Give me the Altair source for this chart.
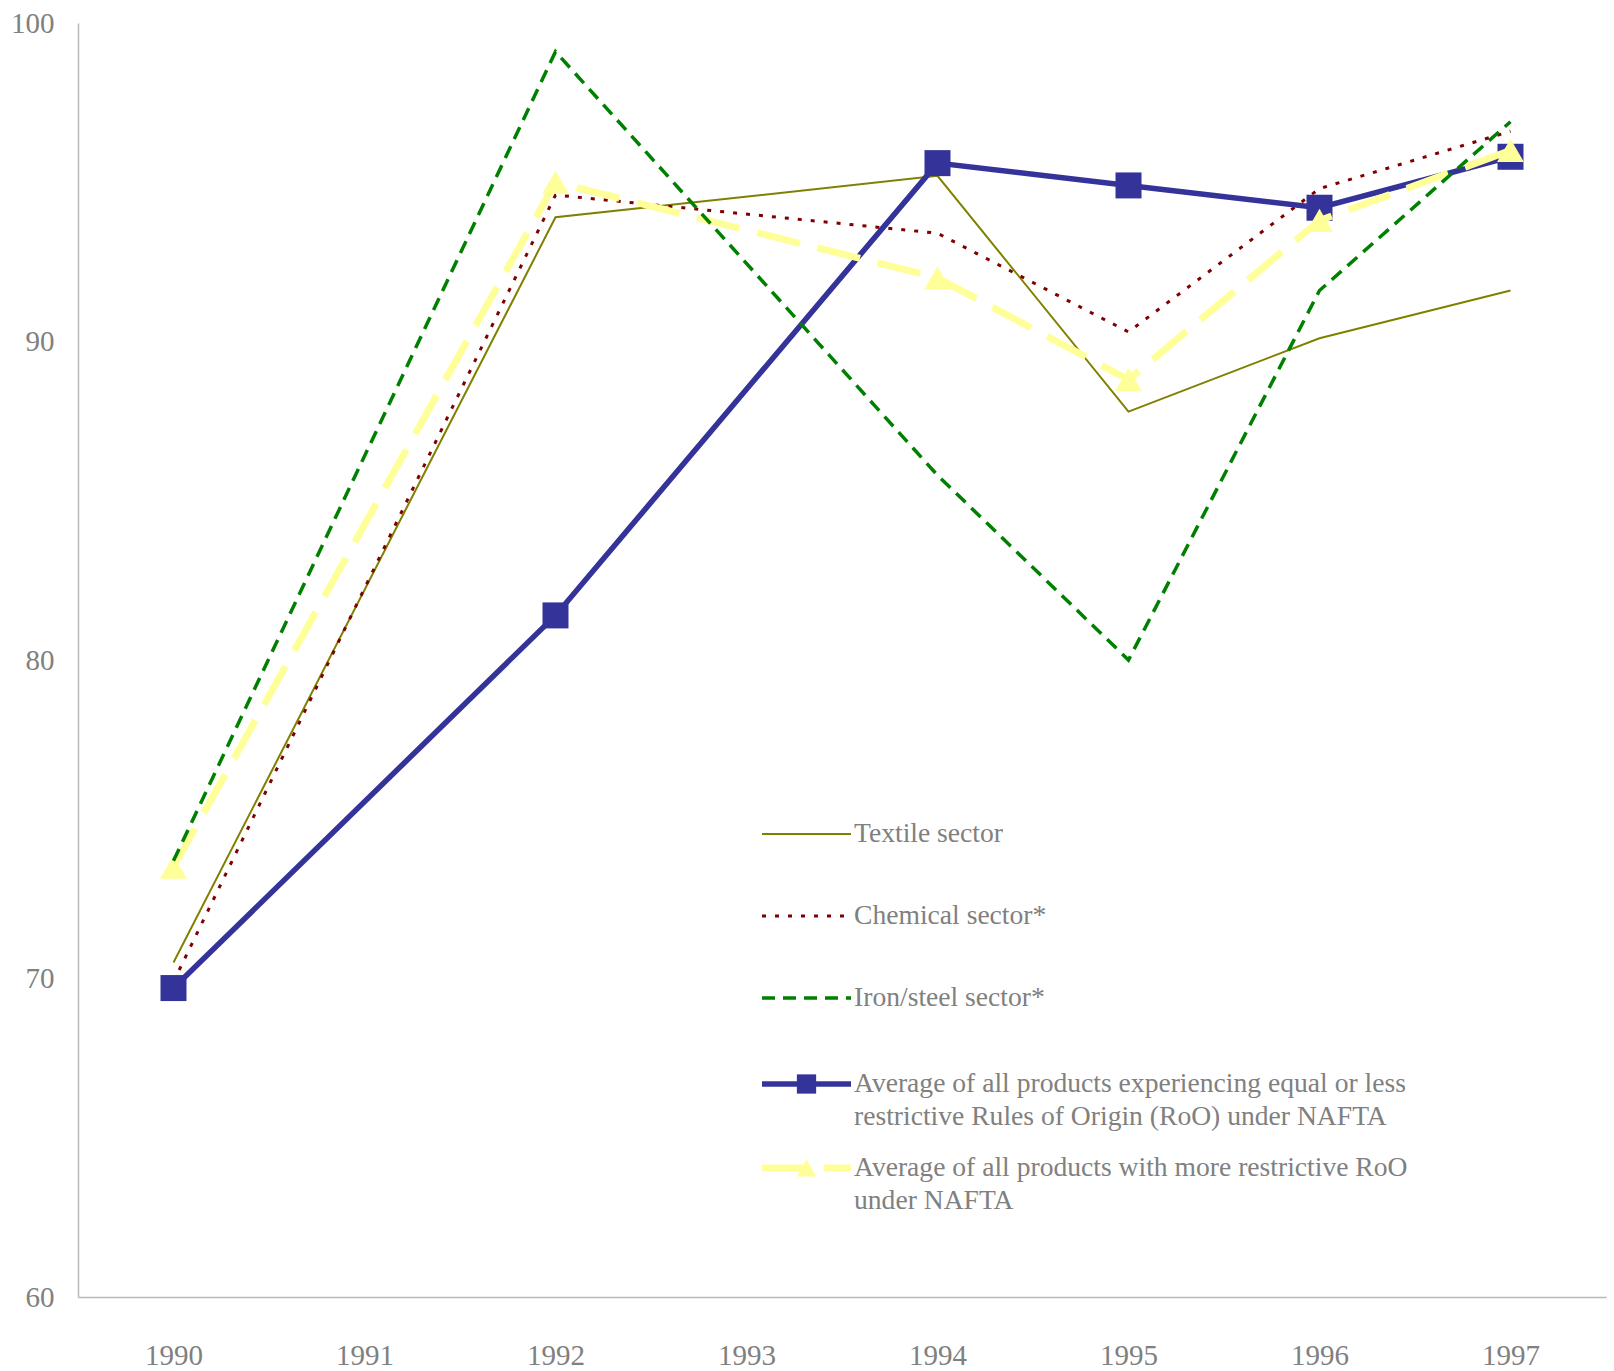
import altair as alt
import pandas as pd

# Year categories on the x axis (1991 and 1993 have no observations)
all_years = ["1990", "1991", "1992", "1993", "1994", "1995", "1996", "1997"]
obs_years = ["1990", "1992", "1994", "1995", "1996", "1997"]

# Index values for each series
textile = [70.5, 93.9, 95.2, 87.8, 90.1, 91.6]
chemical = [69.9, 94.6, 93.4, 90.3, 94.8, 96.6]
iron_steel = [73.7, 99.1, 85.8, 80.0, 91.6, 96.9]
avg_equal_less = [69.7, 81.4, 95.6, 94.9, 94.2, 95.8]
avg_more = [73.5, 95.0, 92.0, 88.8, 93.8, 96.0]

series_names = [
    "Textile sector",
    "Chemical sector*",
    "Iron/steel sector*",
    "Average of all products experiencing equal or less restrictive Rules of Origin (RoO) under NAFTA",
    "Average of all products with more restrictive RoO under NAFTA",
]
series_values = [textile, chemical, iron_steel, avg_equal_less, avg_more]

legend_lines = [
    ["Textile sector"],
    ["Chemical sector*"],
    ["Iron/steel sector*"],
    ["Average of all products experiencing equal or less",
     "restrictive Rules of Origin (RoO) under NAFTA"],
    ["Average of all products with more restrictive RoO",
     "under NAFTA"],
]

rows = []
for name, vals in zip(series_names, series_values):
    for yr, v in zip(obs_years, vals):
        rows.append({"series": name, "year": yr, "value": v})
df = pd.DataFrame(rows)

FONT = "Liberation Serif"
GREY = "#808080"

# Line styles per series: color, width, dash, marker
styles = [
    dict(color="#808000", width=2, dash=None, shape=None),
    dict(color="#800000", width=3, dash=[4, 9], shape=None),
    dict(color="#008000", width=3.5, dash=[13, 8], shape=None),
    dict(color="#333399", width=5.5, dash=None, shape="square", size=676),
    dict(color="#FFFF99", width=7, dash=[44, 18], shape="triangle-up", size=720),
]
draw_order = [0, 1, 3, 4, 2]

x_enc = alt.X(
    "year:O",
    scale=alt.Scale(domain=all_years, type="point", padding=0.5),
    axis=alt.Axis(
        title=None, labelAngle=0, ticks=False, domainColor="#b8b8b8", domainWidth=1.5,
        labelFont=FONT, labelFontSize=29, labelColor=GREY, labelPadding=44,
        grid=False,
    ),
)
y_enc = alt.Y(
    "value:Q",
    scale=alt.Scale(domain=[60, 100], nice=False, zero=False),
    axis=alt.Axis(
        title=None, values=[60, 70, 80, 90, 100], ticks=False, grid=False,
        domainColor="#b8b8b8", domainWidth=1.5,
        labelFont=FONT, labelFontSize=29, labelColor=GREY, labelPadding=24,
    ),
)

base = alt.Chart(df)
layers = []
for i in draw_order:
    st = styles[i]
    mk = dict(color=st["color"], strokeWidth=st["width"], strokeCap="butt")
    if st["dash"]:
        mk["strokeDash"] = st["dash"]
    line = base.transform_filter(alt.datum.series == series_names[i]).mark_line(**mk).encode(
        x=x_enc, y=y_enc
    )
    layers.append(line)
    if st["shape"]:
        pts = base.transform_filter(alt.datum.series == series_names[i]).mark_point(
            shape=st["shape"], filled=True, size=st["size"], color=st["color"], opacity=1
        ).encode(x=x_enc, y=y_enc)
        layers.append(pts)

# Legend drawn inside the plot area
one = pd.DataFrame({"k": [0]})
leg_rows_y = [811, 893, 975, 1061, 1145]
sym_x0, sym_x1, text_x = 684, 773, 776
line_gap = 33
for i, ry in enumerate(leg_rows_y):
    st = styles[i]
    mk = dict(color=st["color"], strokeWidth=st["width"], strokeCap="butt")
    if st["dash"]:
        mk["strokeDash"] = st["dash"]
    layers.append(
        alt.Chart(one).mark_rule(**mk).encode(
            x=alt.value(sym_x0), x2=alt.value(sym_x1), y=alt.value(ry)
        )
    )
    if st["shape"]:
        layers.append(
            alt.Chart(one).mark_point(
                shape=st["shape"], filled=True, size=st["size"] * 0.55,
                color=st["color"], opacity=1,
            ).encode(x=alt.value((sym_x0 + sym_x1) / 2), y=alt.value(ry))
        )
    for j, txt in enumerate(legend_lines[i]):
        layers.append(
            alt.Chart(one).mark_text(
                align="left", baseline="middle", font=FONT, fontSize=27.6, color=GREY
            ).encode(
                x=alt.value(text_x), y=alt.value(ry + j * line_gap), text=alt.value(txt)
            )
        )

chart = alt.layer(*layers).properties(
    width=1528,
    height=1274,
    autosize=alt.AutoSizeParams(type="none"),
    padding={"left": 78, "top": 23, "right": 8, "bottom": 74},
    background="white",
).configure_view(stroke=None)

chart.save("out.html", embed_options={"renderer": "svg", "actions": False})
